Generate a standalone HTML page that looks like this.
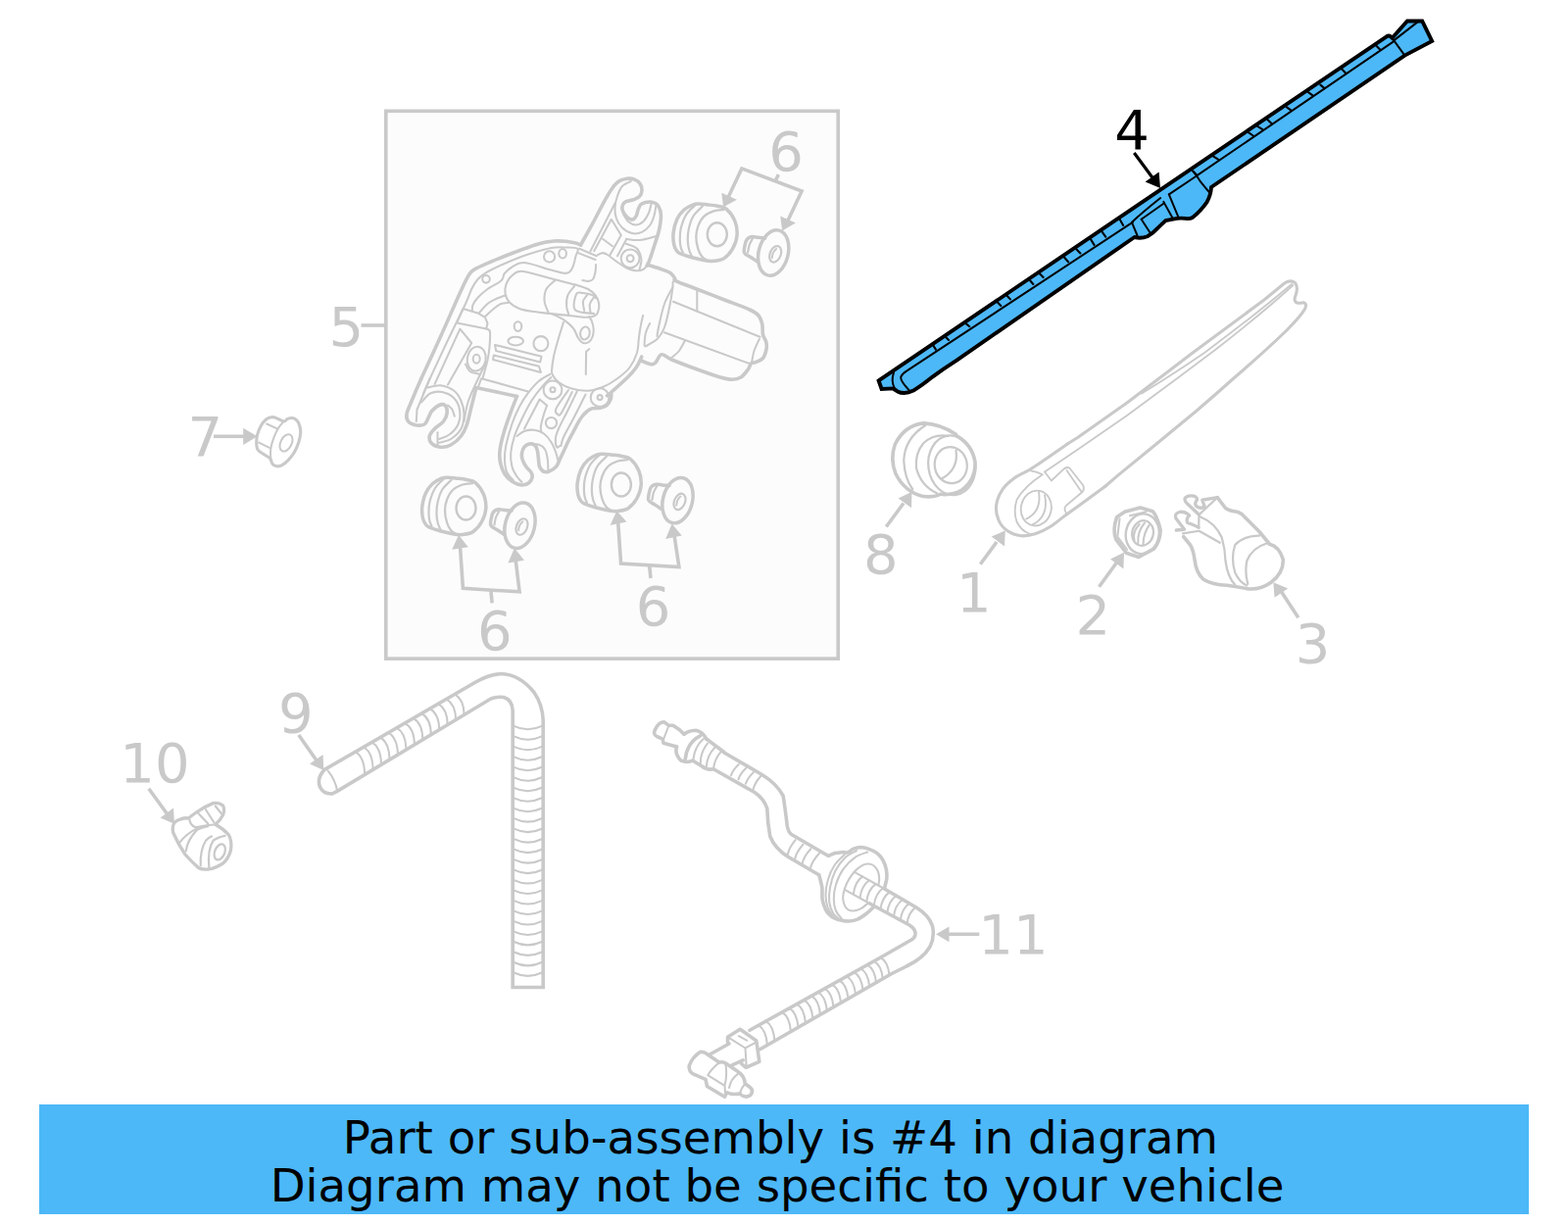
<!DOCTYPE html>
<html lang="en">
<head>
<meta charset="utf-8">
<title>Part diagram</title>
<style>
html,body{margin:0;padding:0;background:#fff;}
body{width:1600px;height:1249px;overflow:hidden;position:relative;font-family:"DejaVu Sans","Liberation Sans",sans-serif;}
svg{position:absolute;left:0;top:0;display:block;}
.g{fill:none;stroke:#c9c9c9;stroke-linecap:round;stroke-linejoin:round;}
.t{stroke-width:3.6;}
.n{stroke-width:2.05;}
.b{stroke-linecap:butt !important;}
.lab{font-family:"DejaVu Sans","Liberation Sans",sans-serif;font-size:56px;fill:#c9c9c9;}
.k{fill:none;stroke:#000;stroke-linejoin:round;stroke-linecap:round;}
.banner{position:absolute;left:40px;top:1127px;width:1520px;height:112px;background:#4db8f7;}
.banner div{position:absolute;left:0;width:1520px;text-align:center;white-space:nowrap;font-size:46.67px;line-height:1;color:#000;}
</style>
</head>
<body>
<svg id="dia" width="1600" height="1249" viewBox="0 0 1600 1249">
<!--BOX-->
<rect x="393.8" y="113.3" width="461.4" height="558.8" fill="#fcfcfc" stroke="#c9c9c9" stroke-width="3.6"/>
<g id="blade">
<!-- main body -->
<path d="M896.6 388.4 L1414.8 37.3 Q1417 36 1418.6 37 L1420.6 38.8 L1436 21.5 L1451.2 21.5 L1461.2 42 L1433.4 56.6 L1236 191 Q1235.6 199 1231.5 206.3 Q1224.5 216 1216.8 222 Q1214 223.6 1209.5 222.9 Q1203.5 222 1197 223.6 Q1192 224.6 1189.4 225.1 Q1186.5 227.8 1181.5 232.6 Q1176 238.6 1170.8 241.2 Q1164.5 243.8 1157.6 242 L976.3 367.6 Q962.5 376.4 951.5 384.6 Q940.5 393.6 932 398.6 Q923 403 915.8 399.4 Q913 397.6 911.4 396.4 L899.6 397 Z" fill="#4db8f7" stroke="#000" stroke-width="3.9" stroke-linejoin="miter"/>
<g class="k" stroke-width="2.0">
<!-- inner rail -->
<path d="M927.4 398 Q918 388 919.4 384.4 Q920.6 381.4 925.4 378.4 L1156 226.6"/>
<path d="M1221 179.4 L1422 42.4"/>
<!-- end cap left curve -->
<path d="M912 380.2 Q909 388.6 912.6 395.6"/>
<!-- tip lines -->
<path d="M1420.6 38.8 L1433.4 56.6"/>
<path d="M1422.2 41.4 L1446.6 22.4"/>
</g>
<g class="k" stroke-width="2.1" id="ticks">
<path d="M1404.4 46.8 L1408.6 50.9 M1368.7 70.1 L1373.5 74.9 M1347.4 86.6 L1351.5 90.1 M1335 94.2 L1339.8 97.6 M1313 109.3 L1317.8 112.8 M1293.1 121.7 L1297.2 125.8 M1282.8 128.6 L1288 131.8 M1273.9 135.1 L1278.8 138.5 M1237.5 159.1 L1243 162.6 M1216.9 174.3 L1221 178.4"/>
<path d="M1142.6 223.8 L1146.1 229.9 M1124.8 236.8 L1128.2 241.6 M1113.1 244.4 L1116.5 249.9 M1098.3 254.3 L1102.4 258.4 M1085.9 262.5 L1090.1 267.3 M1059.8 278.3 L1064.6 283.1 M1050.2 285.2 L1054.3 290 M1027.5 301.7 L1030.9 305.4 M1017.9 308.6 L1021.3 312 M985.9 330.4 L989.3 333.2 M965.3 344.2 L968 346.9 M952.2 352.4 L954.9 356.6"/>
</g>
<!-- connector details, traced at 7.2727x from (1100,100) -->
<g class="k" transform="translate(1100,100) scale(0.1375)" stroke-width="14.5">
<path d="M675 715 L880 578"/>
<path d="M855 545 Q880 575 905 615 Q940 660 975 700"/>
<path d="M675 715 L745 885"/>
<path d="M635 770 L703 892"/>
<path d="M470 900 L640 780"/>
<path d="M470 900 L535 1000"/>
<path d="M400 925 L440 1020"/>
<path d="M400 922 Q470 855 612 742"/>
</g>
<!-- arrow + label -->
<path d="M1157.3 156 L1178 184" stroke="#000" stroke-width="3.2" fill="none"/>
<path d="M1184 192 L1168.6 185.6 L1182.6 175.4 Z" fill="#000"/>
<text x="1137.2" y="151.9" style="font-family:'DejaVu Sans','Liberation Sans',sans-serif;font-size:56px;fill:#000">4</text>
</g>

<g id="motor" class="g">
<path class="t" d="M592.5 250 C594.6 246.2 600.8 235.2 605 227.5 C609.2 219.8 614 210 617.5 203.8 C621 197.5 623.8 193.2 626.2 190 C628.8 186.8 630.2 185.7 632.5 184.4 C634.8 183.1 637.5 182.5 640 182.2 C642.5 182 645.3 182.2 647.5 183.1 C649.7 184 651.9 185.6 653.1 187.5 C654.4 189.4 655.1 192.2 655 194.4 C654.9 196.6 654 199.1 652.5 200.6 C651 202.2 648.5 202.9 646.2 203.8 C644 204.6 640.5 204.8 638.8 205.6 C637 206.5 636.2 207.4 635.6 208.8 C635 210.1 634.7 212.1 635 213.8 C635.3 215.4 636.4 217.2 637.5 218.8 C638.6 220.3 640.4 222.3 641.9 223.1 C643.3 224 645 224.3 646.2 223.8 C647.5 223.2 648.5 221.7 649.4 220 C650.2 218.3 650.5 215.6 651.2 213.8 C652 211.9 652.5 210 653.8 208.8 C655 207.5 656.9 206.9 658.8 206.5 C660.6 206.1 663 205.9 665 206.2 C667 206.6 669.2 207.3 670.6 208.8 C672.1 210.2 673.1 212.7 673.8 215 C674.4 217.3 674.6 219.2 674.4 222.5 C674.2 225.8 673.6 230.2 672.5 235 C671.4 239.8 669.2 246 667.5 251.2 C665.8 256.5 663.8 262.9 662.5 266.2 C661.2 269.6 660.4 270.4 660 271.2"/>
<path class="n" d="M643.8 185 C642.3 185.8 637.3 187.5 635 190 C632.7 192.5 631.2 196.5 630 200 C628.8 203.5 627.7 207.5 627.5 211.2 C627.3 215 627.5 219 628.8 222.5 C630 226 632.3 229.9 635 232.5 C637.7 235.1 641.7 237.4 645 238.1 C648.3 238.9 652 238.2 655 236.9 C658 235.5 661 232.8 663.1 230 C665.2 227.2 666.5 223.3 667.5 220 C668.5 216.7 669.1 211.7 669.4 210"/>
<path class="n" d="M636.2 218.8 C637.1 220 639.2 224.5 641.2 226.2 C643.3 228 646.2 229.4 648.8 229.4 C651.2 229.4 654.1 228.2 656.2 226.2 C658.4 224.3 660.5 220.4 661.9 217.5 C663.2 214.6 664 210.2 664.4 208.8"/>
<path class="n" d="M627.5 207.5 L602.5 256.2"/>
<path class="n" d="M606.2 256.2 L623.8 223.8 L633.8 240 L622.5 260"/>
<path class="n" d="M615 243.8 L625 251.2"/>
<path class="n" d="M638.8 245 L630 261.2"/>
<path class="n" d="M638.8 243.8 C641 244 647.5 245.4 652.5 245 C657.5 244.6 666 241.9 668.8 241.2"/>
<ellipse class="n" cx="643.1" cy="263.8" rx="9.4" ry="9.4"/>
<ellipse class="n" cx="643.1" cy="263.8" rx="3.5" ry="3.5"/>
<path class="n" d="M638.8 248.8 C640.6 249.6 647.4 251 650 253.8 C652.6 256.5 654 261.5 654.4 265 C654.8 268.5 652.8 273.3 652.5 275"/>
<path class="n" d="M591.2 253.8 L608.8 261.2"/>
<path class="n" d="M590 258.1 L607.5 265"/>
<path class="n" d="M610 260 C610.8 259.7 613.3 258.1 615 258.1 C616.7 258.1 617.5 258.4 620 260 C622.5 261.6 626.7 265.2 630 267.5 C633.3 269.8 636.9 272.3 640 273.8 C643.1 275.2 646 276 648.8 276.2 C651.5 276.5 654.4 275.8 656.2 275 C658.1 274.2 659.4 271.9 660 271.2"/>
<path class="t" d="M660.8 270.2 C663.1 271 671.1 273.4 675 274.8 C678.9 276.1 681.8 277 684 278.5 C686.2 280 687.5 282.4 688.5 283.8 C689.5 285.1 686.2 284.9 690 286.8 C693.8 288.6 703 291.9 711 295 C719 298.1 729 302 738 305.5 C747 309 759 313.2 765 316 C771 318.8 771.9 319.5 774 322 C776.1 324.5 777 327.8 777.8 331 C778.5 334.2 777.8 338.5 778.5 341.5 C779.2 344.5 781.2 346.5 781.8 349 C782.4 351.5 782.5 353.8 782 356.5 C781.4 359.2 780.3 363.3 778.5 365.5 C776.7 367.7 773 368.8 771 369.7 C769 370.6 767.8 369.6 766.5 370.8 C765.2 371.9 765.2 374.4 763.5 376.8 C761.8 379.1 758.8 383.2 756 385 C753.2 386.8 750.5 387.2 747 387.2 C743.5 387.2 741 386.8 735 385 C729 383.2 719.2 379.8 711 376.8 C702.8 373.8 691.5 369.5 685.5 367 C679.5 364.5 677.8 361.2 675 361.8 C672.2 362.2 670.8 368.3 669 370 C667.2 371.7 666.8 372.1 664.5 371.8 C662.2 371.6 657 369.1 655.5 368.5"/>
<path class="n" d="M687 307.8 L775.5 343.8"/>
<path class="n" d="M678 339.2 L764.2 370.8"/>
<path class="n" d="M711.3 296.5 L711.3 317.1"/>
<path class="n" d="M686.7 287.5 C686.6 288.8 686.8 290.8 686.2 295 C685.7 299.2 684.6 306.5 683.2 313 C681.9 319.5 680.1 328.5 678 334 C675.9 339.5 673.8 342.8 670.5 346 C667.2 349.2 660.5 352.2 658.5 353.5"/>
<path class="n" d="M686.2 293.5 C684.9 296.2 680.4 303.2 678 310 C675.6 316.8 673.2 328.5 672 334 C670.8 339.5 670.8 341.5 670.5 343"/>
<path class="n" d="M699 347.5 C698 349.2 695.2 355.1 693 358 C690.8 360.9 686.8 363.6 685.5 364.8"/>
<path class="n" d="M774.8 346 C773.9 348 770.8 354.1 769.5 358 C768.2 361.9 767.6 367.4 767.2 369.2"/>
<path class="t" d="M654.8 364 C653.9 365.8 651.9 371 649.5 374.5 C647.1 378 644.8 380.8 640.5 385 C636.2 389.2 627.5 396.9 624 400 C620.5 403.1 620.2 403.1 619.5 403.8"/>
<path class="t" d="M430 386.1 C433.3 378.9 443.3 357.3 450 342.5 C456.7 327.7 465.2 307.9 470 297.5 C474.8 287.1 476.2 283.9 478.8 280 C481.2 276.1 481.5 276.5 485 274.4 C488.5 272.3 493.3 270.3 500 267.5 C506.7 264.7 516.7 260.6 525 257.5 C533.3 254.4 543.3 250.7 550 248.8 C556.7 246.8 560.4 246.4 565 246 C569.6 245.6 573.8 245.9 577.5 246.2 C581.2 246.6 585 247.5 587.5 248.1 C590 248.8 591.7 249.7 592.5 250"/>
<path class="n" d="M432.2 401.2 C433.3 398.7 434.8 394.9 438.8 386.1 C442.8 377.4 450.2 361.4 456.2 348.8 C462.3 336.1 470.8 319 475 310 C479.2 301 479.2 299.2 481.2 295 C483.3 290.8 485.2 287.7 487.5 285 C489.8 282.3 490.8 281.2 495 278.8 C499.2 276.2 505.4 273.1 512.5 270 C519.6 266.9 529.2 262.8 537.5 260 C545.8 257.2 555.8 254.4 562.5 253.1 C569.2 251.9 573 252.4 577.5 252.5 C582 252.6 587.7 252.3 589.4 253.8 C591 255.2 588.2 258.3 587.5 261.2 C586.8 264.2 586 268.5 585 271.2 C584 274 582.9 276.2 581.2 277.5 C579.6 278.8 578.1 279.1 575 278.8 C571.9 278.4 569.2 277.4 562.5 275.6 C555.8 273.9 541.7 268.6 535 268.1 C528.3 267.6 525.8 270.7 522.5 272.5 C519.2 274.3 516.6 276.9 515 278.8 C513.4 280.6 514 282.3 513.1 283.8 C512.3 285.2 512.6 285.6 510 287.5 C507.4 289.4 501.2 292.3 497.5 295 C493.8 297.7 490 301 487.5 303.8 C485 306.5 483.4 309.2 482.5 311.2 C481.6 313.3 482 315.4 481.9 316.2"/>
<ellipse class="n" cx="496.0" cy="284.8" rx="3.8" ry="3.8"/>
<ellipse class="n" cx="560.6" cy="261.9" rx="5.6" ry="5.6"/>
<ellipse class="n" cx="574.1" cy="258.8" rx="3.8" ry="4.8"/>
<path class="n" d="M472.5 315 L487.5 319.4 L495 323.8 L497.5 330 L496.2 335.6 L466.2 329.4 L472.5 315"/>
<path class="n" d="M496.2 335.6 C496.9 336.1 499.5 335.5 500 338.8 C500.5 342 499.8 350.2 499.4 355 C499 359.8 498.6 362.3 497.5 367.5 C496.4 372.7 493.3 383 492.5 386.1"/>
<path class="n" d="M443.6 391.9 L469.4 335.6 L481.2 350 L457 392.5"/>
<ellipse class="n" cx="486.2" cy="366.2" rx="9.4" ry="12.5" transform="rotate(10 486.2 366.2)"/>
<ellipse class="n" cx="486.2" cy="366.2" rx="3.5" ry="4.4"/>
<path class="n" d="M488.8 319.4 C490.2 317.8 494.6 312.4 497.5 310 C500.4 307.6 503.1 306.5 506.2 305 C509.4 303.5 514.6 301.9 516.2 301.2"/>
<path class="n" d="M495 323.1 C496.5 321.8 501 317.2 503.8 315 C506.5 312.8 508.8 311 511.2 310 C513.8 309 517.5 309 518.8 308.8"/>
<ellipse class="n" cx="528.5" cy="333.1" rx="3.8" ry="4.8"/>
<ellipse class="n" cx="526.2" cy="348.1" rx="7.8" ry="4.4"/>
<ellipse class="n" cx="551.9" cy="350.6" rx="7.5" ry="7.5"/>
<path class="n" d="M505 351.9 L552.5 363.8 L551.2 369.4 L506.2 358.1 Z"/>
<path class="n" d="M503.8 362.5 L550 373.8 L551.9 380 L503.1 366.9 Z"/>
<path class="n" d="M533.8 276.9 C541.2 277.6 558.5 283.3 567.5 285.6 C576.5 287.9 582.1 289.1 587.5 290.6 C592.9 292.2 596.7 293.2 600 295 C603.3 296.8 605.6 298.8 607.5 301.2 C609.4 303.8 610.8 307.1 611.2 310 C611.7 312.9 610.8 316.7 610 318.8 C609.2 320.8 608.3 321.7 606.2 322.5 C604.2 323.3 601.9 323.9 597.5 323.8 C593.1 323.6 586 322.5 580 321.9 C574 321.2 567.1 320.6 561.2 320 C555.4 319.4 550.2 319 545 318.1 C539.8 317.3 534.2 316.6 530 315 C525.8 313.4 522.4 311.2 520 308.8 C517.6 306.2 516.2 303.1 515.6 300 C515 296.9 515.4 293.1 516.5 290 C517.6 286.9 519.6 283.4 522.5 281.2 C525.4 279.1 526.2 276.1 533.8 276.9 Z"/>
<path class="n" d="M566.2 286.2 C564.8 287.7 559.3 291.5 557.5 295 C555.7 298.5 555.2 303.3 555.6 307.5 C556 311.7 559.3 317.9 560 320"/>
<path class="n" d="M586.2 291.9 C585.1 293.4 580.7 297.8 579.4 301.2 C578 304.7 577.9 309.1 578.1 312.5 C578.3 315.9 580.2 320.3 580.6 321.9"/>
<path class="n" d="M608.1 304.4 C607.6 303.9 607.2 302.1 605 301.2 C602.8 300.4 597.8 299.2 595 299 C592.2 298.8 589.5 297.1 588.1 300 C586.8 302.9 583.9 312.9 586.9 316.2 C589.9 319.6 603 319.4 606.2 320"/>
<path class="n" d="M599.4 300.6 C598.6 301.8 595.5 304.8 595 307.5 C594.5 310.2 596 315.3 596.2 316.9"/>
<path class="n" d="M606.2 303.1 C605.5 304.3 602.5 307.4 601.9 310 C601.2 312.6 602.4 317.3 602.5 318.8"/>
<path class="n" d="M608.1 270 C608 271.2 608 275 607.5 277.5 C607 280 606.2 283.4 605 285 C603.8 286.6 601.8 286.7 600 286.9 C598.2 287 595.3 286.1 594.4 286"/>
<path class="n" d="M562.5 320 C564.6 321 571.2 323.8 575 326.2 C578.8 328.8 582.5 331.9 585 335 C587.5 338.1 588.3 342.5 590 345 C591.7 347.5 593.1 349.4 595 350 C596.9 350.6 599.6 350 601.2 348.8 C602.9 347.5 604.3 344.8 605 342.5 C605.7 340.2 605.8 337.5 605.6 335 C605.4 332.5 604.5 329.5 603.8 327.5 C603 325.5 601.7 323.9 601.2 323.1"/>
<ellipse class="n" cx="596.9" cy="340.0" rx="4.8" ry="6.5" transform="rotate(10 596.9 340.0)"/>
<path class="n" d="M575 328.8 C574.2 331.5 571.7 339.2 570 345 C568.3 350.8 566.1 358.3 565 363.8 C563.9 369.2 563.3 374.4 563.1 377.5 C562.9 380.6 562.6 380.4 563.8 382.5 C564.9 384.6 566.9 387.7 570 390 C573.1 392.3 577.5 394.8 582.5 396.2 C587.5 397.7 594.6 399 600 398.8 C605.4 398.5 610 397.1 615 395 C620 392.9 625.4 389.6 630 386.2 C634.6 382.9 639.2 379.4 642.5 375 C645.8 370.6 648.4 365 650 360 C651.6 355 651.2 349.6 651.9 345 C652.5 340.4 653 336.4 653.8 332.5 C654.5 328.6 655.8 323.6 656.2 321.9"/>
<path class="n" d="M601.2 356.2 L598.1 358.8 L597.8 381.9"/>
<path class="n" d="M663.1 330 C662.4 331.7 659.7 336.2 658.8 340 C657.8 343.8 657.7 350.4 657.5 352.5"/>
<path class="n" d="M438.7 386.1 L425.5 418 L424.8 430"/>
<path class="t" d="M430 386.1 C428.2 390.1 422 404.4 419.5 410.5 C417 416.6 415.5 419.2 415 422.5 C414.5 425.8 415 428.1 416.5 430 C418 431.9 421.2 433.2 424 433.8 C426.8 434.2 430.9 434.1 433 433 C435.1 431.9 435.5 429.2 436.8 427 C438 424.8 438.6 421.8 440.5 419.5 C442.4 417.2 445.8 414.5 448 413.5 C450.2 412.5 452.6 412.2 454 413.5 C455.4 414.8 456.5 418.2 456.2 421 C456 423.8 454.6 427.2 452.5 430 C450.4 432.8 445.9 435 443.5 437.5 C441.1 440 438.8 442.5 438.2 445 C437.8 447.5 438.6 450.6 440.5 452.5 C442.4 454.4 446.2 456 449.5 456.2 C452.8 456.5 456.5 455.9 460 454 C463.5 452.1 467.8 448.5 470.5 445 C473.2 441.5 474.8 438 476.5 433 C478.2 428 479.5 421 481 415 C482.5 409 484.8 400 485.5 397"/>
<path class="n" d="M436 395.5 C438.2 395.1 445 392.8 449.5 393.2 C454 393.8 459.5 395.9 463 398.5 C466.5 401.1 468.8 405 470.5 409 C472.2 413 473.5 417.8 473.5 422.5 C473.5 427.2 472.8 433.2 470.5 437.5 C468.2 441.8 463.8 445.6 460 448 C456.2 450.4 450 451.1 448 451.8"/>
<path class="n" d="M430 410.5 C431.5 409 435.5 403.2 439 401.5 C442.5 399.8 447 399.2 451 400 C455 400.8 460 403 463 406 C466 409 468.2 413.5 469 418 C469.8 422.5 469.2 428.8 467.5 433 C465.8 437.2 461.8 441 458.5 443.5 C455.2 446 449.8 447.2 448 448"/>
<path class="n" d="M457 413.5 C457.8 414.2 460.4 416.1 461.5 418 C462.6 419.9 463.4 423.6 463.8 424.8"/>
<path class="n" d="M446.5 441.2 L446.5 454"/>
<path class="n" d="M496 370 C495 372 493 375.5 490 382 C487 388.5 480.8 401 478 409 C475.2 417 474.2 426.5 473.5 430"/>
<path class="n" d="M475 371.5 C475.8 372.8 477 377.2 479.5 379 C482 380.8 488.2 381.5 490 382"/>
<path class="t" d="M485.5 395.5 L527.5 404.4"/>
<path class="t" d="M527.5 404.4 C526.2 407.6 522.3 417.4 520 423.8 C517.7 430.1 515.4 436.5 513.8 442.5 C512.1 448.5 510.5 455 510 460 C509.5 465 509.8 468.5 510.6 472.5 C511.5 476.5 513 480.6 515 483.8 C517 486.9 519.6 489.4 522.5 491.2 C525.4 493.1 529.6 494.8 532.5 495 C535.4 495.2 538.2 493.9 540 492.5 C541.8 491.1 542.8 488.6 543.1 486.9 C543.4 485.1 542.9 483.6 541.9 481.9 C540.8 480.1 538.3 478.4 536.9 476.2 C535.4 474.1 533.9 471 533.1 468.8 C532.4 466.5 532.2 464.6 532.5 462.5 C532.8 460.4 533.8 457.8 535 456.2 C536.2 454.7 538.3 453.5 540 453.1 C541.7 452.7 543.6 452.8 545 453.8 C546.4 454.7 547.4 456.5 548.1 458.8 C548.9 461 549 464.6 549.4 467.5 C549.8 470.4 549.7 474 550.6 476.2 C551.6 478.5 553.2 480.5 555 481.2 C556.8 482 559.2 481.5 561.2 480.6 C563.3 479.8 565.8 478.2 567.5 476.2 C569.2 474.3 569.9 471.6 571.2 468.8 C572.6 465.9 574.2 462.5 575.6 459.4 C577.1 456.2 578.4 453.1 580 450 C581.6 446.9 583.3 443.8 585 440.6 C586.7 437.5 588.5 433.9 590 431.2 C591.5 428.6 592.5 426.9 594 425 C595.5 423.1 597.1 421.4 598.8 420 C600.4 418.6 601.5 417.5 603.8 416.9 C606 416.2 610 416.8 612.5 416.2 C615 415.7 617 415.2 618.8 413.8 C620.5 412.3 622.3 409.4 623.1 407.5 C624 405.6 623.6 403.3 623.8 402.5"/>
<path class="n" d="M487.5 396.2 L491.2 386.2 L538.8 399.4"/>
<path class="n" d="M561.2 381.9 C559.4 383 553.8 385.5 550 388.8 C546.2 392 542.1 396.9 538.8 401.2 C535.4 405.6 532.7 409.8 530 415 C527.3 420.2 524.8 425.8 522.5 432.5 C520.2 439.2 517.5 448.8 516.2 455 C515 461.2 514.8 465.4 515 470 C515.2 474.6 516 479.2 517.5 482.5 C519 485.8 522.7 488.8 523.8 490"/>
<path class="n" d="M562.5 385 C561 386.5 557.1 389.8 553.8 393.8 C550.4 397.7 546 403.1 542.5 408.8 C539 414.4 535.4 421.5 532.5 427.5 C529.6 433.5 526.9 439.2 525 445 C523.1 450.8 521.7 457.3 521.2 462.5 C520.8 467.7 521.5 472.3 522.5 476.2 C523.5 480.2 525.8 483.6 527.5 486.2 C529.2 488.9 531.7 490.9 532.5 491.9"/>
<path class="n" d="M535 437.5 L550.6 407.5 L558.1 413.8"/>
<path class="n" d="M558.1 413.8 C557.6 415.2 556 419 555 422.5 C554 426 552.3 431.9 551.9 435 C551.5 438.1 552.4 440.2 552.5 441.2"/>
<path class="n" d="M527.5 445 C528.8 444.2 532.1 441 535 440 C537.9 439 541.7 438.3 545 438.8 C548.3 439.2 552.1 440.4 555 442.5 C557.9 444.6 560.4 447.9 562.5 451.2 C564.6 454.6 566.4 459.4 567.5 462.5 C568.6 465.6 569.1 468.8 569.4 470"/>
<path class="n" d="M540 453.1 C541.7 453.2 547.3 452.8 550 453.8 C552.7 454.7 554.8 456.2 556.2 458.8 C557.7 461.2 558.2 465.2 558.8 468.8 C559.3 472.3 559.3 478.1 559.4 480"/>
<ellipse class="n" cx="564.0" cy="397.8" rx="9.4" ry="9.4"/>
<ellipse class="n" cx="564.0" cy="397.8" rx="2.5" ry="2.5"/>
<path class="n" d="M580 398.1 C578.3 400.5 572.2 409.1 570 412.5 C567.8 415.9 567.1 417.1 566.9 418.8 C566.7 420.4 567.8 422 568.8 422.5 C569.7 423 570 425.6 572.5 421.9 C575 418.1 581.9 403.6 583.8 400"/>
<path class="n" d="M588.8 399.4 C587.1 402.8 581.9 413.6 578.8 420 C575.6 426.4 572 432.9 570 437.5 C568 442.1 567.2 444.4 566.9 447.5 C566.6 450.6 567.4 455 568.1 456.2 C568.9 457.5 570.7 455.2 571.2 455"/>
<path class="n" d="M597.5 402.5 C595.6 406.2 590 417.7 586.2 425 C582.5 432.3 577.3 441.2 575 446.2 C572.7 451.2 572.9 453.5 572.5 455"/>
<ellipse class="n" cx="562.5" cy="431.5" rx="5.6" ry="5.6"/>
<ellipse class="n" cx="612.1" cy="405.6" rx="9.4" ry="9.4"/>
<ellipse class="n" cx="612.1" cy="405.6" rx="2.5" ry="2.5"/>
</g>


<g id="grom">
<g class="g" transform="translate(475.5,518.5)">
<path d="M9.5 -26 C6.6 -28.5 3.8 -28.2 0.5 -29 C-2.8 -29.8 -7.3 -30.1 -10.5 -30.5 C-13.7 -30.9 -16.1 -31.3 -18.5 -31.3 C-20.9 -31.3 -22.4 -31.4 -25 -30.3 C-27.6 -29.2 -31.3 -27.5 -34 -25 C-36.7 -22.5 -39.2 -19.4 -41 -15.5 C-42.8 -11.6 -44.2 -5.8 -44.7 -1.5 C-45.2 2.8 -44.7 7.3 -44 10.5 C-43.3 13.7 -41.8 15.9 -40.5 17.5 C-39.2 19.1 -39 18.8 -36.5 19.8 C-34 20.8 -29.5 22.4 -25.5 23.5 C-21.5 24.6 -16.2 25.9 -12.5 26.5 C-8.8 27.1 -6.8 27.4 -3.5 27 C-0.2 26.6 3.8 26.5 7 24.3 C10.2 22.1 13.8 18 16 14 C18.2 10 20 5.2 20.3 0.5 C20.6 -4.2 19.8 -9.6 18 -14 C16.2 -18.4 12.4 -23.5 9.5 -26 Z" stroke-width="3.5"/>
<path d="M6.5 -25.3 C4.8 -25.1 -0.2 -25.1 -3.5 -24 C-6.8 -22.9 -10.8 -21.1 -13.5 -18.5 C-16.2 -15.9 -18.2 -12 -19.5 -8.5 C-20.8 -5 -21.5 -1.3 -21.5 2.5 C-21.5 6.3 -20.5 11.2 -19.5 14.5 C-18.5 17.8 -17 20.5 -15.5 22.5 C-14 24.5 -11.3 25.7 -10.5 26.3" stroke-width="2.3"/>
<path d="M-22 -30.3 C-23.6 -28.7 -29 -24.5 -31.5 -20.5 C-34 -16.5 -35.9 -10.8 -37 -6.5 C-38.1 -2.2 -38 2.2 -38 5.5 C-38 8.8 -37.5 11.4 -37 13.5 C-36.5 15.6 -35.3 17.5 -35 18.3 M-15 -28.7 C-16.6 -27 -22.2 -22.4 -24.5 -18.5 C-26.8 -14.6 -28.1 -9.7 -29 -5.5 C-29.9 -1.3 -30.1 3 -30 6.5 C-29.9 10 -29.4 12.9 -28.7 15.5 C-28 18.1 -26.4 20.9 -26 22" stroke-width="2.2"/>
<ellipse cx="0" cy="0" rx="10" ry="12" stroke-width="2.4"/>
</g><g class="g" transform="translate(532.5,537.5)">
<ellipse cx="-2" cy="-1.3" rx="15" ry="23.6" transform="rotate(14 -2 -1.3)" stroke-width="3.5"/>
<ellipse cx="0" cy="0" rx="5.5" ry="8.6" transform="rotate(22)" stroke-width="2.2"/>
<path d="M0.9 -5.3 Q-3.5 -1.5 -3.3 3.7" stroke-width="2"/>
<path d="M-10.5 -16.3 C-11.7 -16.4 -15.2 -16.8 -17.5 -17 C-19.8 -17.2 -22.1 -18 -24 -17.7 C-25.9 -17.4 -27.8 -16.4 -29 -15 C-30.2 -13.6 -30.6 -11.8 -31 -9.5 C-31.4 -7.2 -32.6 -3.6 -31.7 -1.5 C-30.8 0.6 -27.7 1.5 -25.5 3 C-23.3 4.5 -19.5 6.9 -18.3 7.7" stroke-width="3.5"/>
<path d="M-23.3 -15.7 C-23.8 -14.7 -25.7 -11.8 -26.5 -9.5 C-27.3 -7.2 -27.8 -3.2 -28 -2 M-12 -15 C-12.7 -13.8 -15 -10.1 -16 -7.5 C-17 -4.9 -17.8 -2 -18 0.5 C-18.2 3 -17.6 6.3 -17.5 7.5" stroke-width="2.2"/>
</g>
<g class="g" transform="translate(633.9,494.5)">
<path d="M9.5 -26 C6.6 -28.5 3.8 -28.2 0.5 -29 C-2.8 -29.8 -7.3 -30.1 -10.5 -30.5 C-13.7 -30.9 -16.1 -31.3 -18.5 -31.3 C-20.9 -31.3 -22.4 -31.4 -25 -30.3 C-27.6 -29.2 -31.3 -27.5 -34 -25 C-36.7 -22.5 -39.2 -19.4 -41 -15.5 C-42.8 -11.6 -44.2 -5.8 -44.7 -1.5 C-45.2 2.8 -44.7 7.3 -44 10.5 C-43.3 13.7 -41.8 15.9 -40.5 17.5 C-39.2 19.1 -39 18.8 -36.5 19.8 C-34 20.8 -29.5 22.4 -25.5 23.5 C-21.5 24.6 -16.2 25.9 -12.5 26.5 C-8.8 27.1 -6.8 27.4 -3.5 27 C-0.2 26.6 3.8 26.5 7 24.3 C10.2 22.1 13.8 18 16 14 C18.2 10 20 5.2 20.3 0.5 C20.6 -4.2 19.8 -9.6 18 -14 C16.2 -18.4 12.4 -23.5 9.5 -26 Z" stroke-width="3.5"/>
<path d="M6.5 -25.3 C4.8 -25.1 -0.2 -25.1 -3.5 -24 C-6.8 -22.9 -10.8 -21.1 -13.5 -18.5 C-16.2 -15.9 -18.2 -12 -19.5 -8.5 C-20.8 -5 -21.5 -1.3 -21.5 2.5 C-21.5 6.3 -20.5 11.2 -19.5 14.5 C-18.5 17.8 -17 20.5 -15.5 22.5 C-14 24.5 -11.3 25.7 -10.5 26.3" stroke-width="2.3"/>
<path d="M-22 -30.3 C-23.6 -28.7 -29 -24.5 -31.5 -20.5 C-34 -16.5 -35.9 -10.8 -37 -6.5 C-38.1 -2.2 -38 2.2 -38 5.5 C-38 8.8 -37.5 11.4 -37 13.5 C-36.5 15.6 -35.3 17.5 -35 18.3 M-15 -28.7 C-16.6 -27 -22.2 -22.4 -24.5 -18.5 C-26.8 -14.6 -28.1 -9.7 -29 -5.5 C-29.9 -1.3 -30.1 3 -30 6.5 C-29.9 10 -29.4 12.9 -28.7 15.5 C-28 18.1 -26.4 20.9 -26 22" stroke-width="2.2"/>
<ellipse cx="0" cy="0" rx="10" ry="12" stroke-width="2.4"/>
</g><g class="g" transform="translate(693.5,511.9)">
<ellipse cx="-2" cy="-1.3" rx="15" ry="23.6" transform="rotate(14 -2 -1.3)" stroke-width="3.5"/>
<ellipse cx="0" cy="0" rx="5.5" ry="8.6" transform="rotate(22)" stroke-width="2.2"/>
<path d="M0.9 -5.3 Q-3.5 -1.5 -3.3 3.7" stroke-width="2"/>
<path d="M-10.5 -16.3 C-11.7 -16.4 -15.2 -16.8 -17.5 -17 C-19.8 -17.2 -22.1 -18 -24 -17.7 C-25.9 -17.4 -27.8 -16.4 -29 -15 C-30.2 -13.6 -30.6 -11.8 -31 -9.5 C-31.4 -7.2 -32.6 -3.6 -31.7 -1.5 C-30.8 0.6 -27.7 1.5 -25.5 3 C-23.3 4.5 -19.5 6.9 -18.3 7.7" stroke-width="3.5"/>
<path d="M-23.3 -15.7 C-23.8 -14.7 -25.7 -11.8 -26.5 -9.5 C-27.3 -7.2 -27.8 -3.2 -28 -2 M-12 -15 C-12.7 -13.8 -15 -10.1 -16 -7.5 C-17 -4.9 -17.8 -2 -18 0.5 C-18.2 3 -17.6 6.3 -17.5 7.5" stroke-width="2.2"/>
</g>
<g class="g" transform="translate(731.8,239.3)">
<path d="M9.5 -26 C6.6 -28.5 3.8 -28.2 0.5 -29 C-2.8 -29.8 -7.3 -30.1 -10.5 -30.5 C-13.7 -30.9 -16.1 -31.3 -18.5 -31.3 C-20.9 -31.3 -22.4 -31.4 -25 -30.3 C-27.6 -29.2 -31.3 -27.5 -34 -25 C-36.7 -22.5 -39.2 -19.4 -41 -15.5 C-42.8 -11.6 -44.2 -5.8 -44.7 -1.5 C-45.2 2.8 -44.7 7.3 -44 10.5 C-43.3 13.7 -41.8 15.9 -40.5 17.5 C-39.2 19.1 -39 18.8 -36.5 19.8 C-34 20.8 -29.5 22.4 -25.5 23.5 C-21.5 24.6 -16.2 25.9 -12.5 26.5 C-8.8 27.1 -6.8 27.4 -3.5 27 C-0.2 26.6 3.8 26.5 7 24.3 C10.2 22.1 13.8 18 16 14 C18.2 10 20 5.2 20.3 0.5 C20.6 -4.2 19.8 -9.6 18 -14 C16.2 -18.4 12.4 -23.5 9.5 -26 Z" stroke-width="3.5"/>
<path d="M6.5 -25.3 C4.8 -25.1 -0.2 -25.1 -3.5 -24 C-6.8 -22.9 -10.8 -21.1 -13.5 -18.5 C-16.2 -15.9 -18.2 -12 -19.5 -8.5 C-20.8 -5 -21.5 -1.3 -21.5 2.5 C-21.5 6.3 -20.5 11.2 -19.5 14.5 C-18.5 17.8 -17 20.5 -15.5 22.5 C-14 24.5 -11.3 25.7 -10.5 26.3" stroke-width="2.3"/>
<path d="M-22 -30.3 C-23.6 -28.7 -29 -24.5 -31.5 -20.5 C-34 -16.5 -35.9 -10.8 -37 -6.5 C-38.1 -2.2 -38 2.2 -38 5.5 C-38 8.8 -37.5 11.4 -37 13.5 C-36.5 15.6 -35.3 17.5 -35 18.3 M-15 -28.7 C-16.6 -27 -22.2 -22.4 -24.5 -18.5 C-26.8 -14.6 -28.1 -9.7 -29 -5.5 C-29.9 -1.3 -30.1 3 -30 6.5 C-29.9 10 -29.4 12.9 -28.7 15.5 C-28 18.1 -26.4 20.9 -26 22" stroke-width="2.2"/>
<ellipse cx="0" cy="0" rx="10" ry="12" stroke-width="2.4"/>
</g><g class="g" transform="translate(791.2,259.3)">
<ellipse cx="-2" cy="-1.3" rx="15" ry="23.6" transform="rotate(14 -2 -1.3)" stroke-width="3.5"/>
<ellipse cx="0" cy="0" rx="5.5" ry="8.6" transform="rotate(22)" stroke-width="2.2"/>
<path d="M0.9 -5.3 Q-3.5 -1.5 -3.3 3.7" stroke-width="2"/>
<path d="M-10.5 -16.3 C-11.7 -16.4 -15.2 -16.8 -17.5 -17 C-19.8 -17.2 -22.1 -18 -24 -17.7 C-25.9 -17.4 -27.8 -16.4 -29 -15 C-30.2 -13.6 -30.6 -11.8 -31 -9.5 C-31.4 -7.2 -32.6 -3.6 -31.7 -1.5 C-30.8 0.6 -27.7 1.5 -25.5 3 C-23.3 4.5 -19.5 6.9 -18.3 7.7" stroke-width="3.5"/>
<path d="M-23.3 -15.7 C-23.8 -14.7 -25.7 -11.8 -26.5 -9.5 C-27.3 -7.2 -27.8 -3.2 -28 -2 M-12 -15 C-12.7 -13.8 -15 -10.1 -16 -7.5 C-17 -4.9 -17.8 -2 -18 0.5 C-18.2 3 -17.6 6.3 -17.5 7.5" stroke-width="2.2"/>
</g>
<g class="g t" stroke-linejoin="miter" stroke-linecap="butt">
<path class="b" style="stroke-linejoin:miter" d="M469.4 556 L472.4 600.4 L530.1 603.9 L526 570"/>
<path class="b" d="M500.9 602.1 L502.1 615.3"/>
<path class="b" style="stroke-linejoin:miter" d="M630.6 532 L633.6 575 L692.9 578.5 L688 546"/>
<path class="b" d="M662.6 577 L664 590"/>
<path class="b" style="stroke-linejoin:miter" d="M743 201.5 L756.9 171.9 L818.1 195 L803.5 226"/>
<path class="b" d="M794.4 178.1 L791.3 184.5"/>
</g>
<g fill="#c9c9c9">
<path d="M468 546 L461.2 560.8 L477.8 558.2 Z"/>
<path d="M524.9 559.3 L518.4 574.6 L535 571.8 Z"/>
<path d="M629.4 521.3 L622.6 536 L639.4 532.6 Z"/>
<path d="M685.6 534.4 L679.2 550 L695.8 546.6 Z"/>
<path d="M738.1 211.3 L736.3 196.8 L751.9 203.8 Z"/>
<path d="M798.1 235.6 L796.3 220.6 L811.9 227.5 Z"/>
</g>
</g>

<g id="p7" class="g">
<path d="M276.6 425.8 C278.1 425.4 278.3 425.3 280.5 426 C282.7 426.7 287.3 429.7 289.5 430 C291.7 430.2 291.9 428 293.4 427.4 C294.9 426.9 296.9 426.3 298.5 426.6 C300.1 426.9 301.8 427.8 303 429.1 C304.2 430.5 305.2 432.7 305.8 434.8 C306.4 436.8 306.8 438.7 306.7 441.5 C306.5 444.3 305.8 448.2 304.7 451.6 C303.6 455 302 458.8 300.2 461.8 C298.4 464.8 296.1 467.5 294 469.6 C291.9 471.8 289.7 473.7 287.8 474.7 C285.9 475.7 284.3 476 282.8 475.8 C281.2 475.6 279.4 474.8 278.2 473.6 C277.1 472.3 276.7 469.6 276 468.5 C275.3 467.4 276.2 468.1 274.3 466.8 C272.4 465.5 266.7 462.1 264.8 460.6 C262.8 459.1 263 459.3 262.5 457.8 C262 456.3 261.7 454 261.7 451.6 C261.7 449.3 261.7 446.7 262.5 443.8 C263.3 440.8 264.9 436.8 266.4 434.2 C267.9 431.6 269.8 429.4 271.5 428 C273.2 426.6 275.1 426.1 276.6 425.8 Z" stroke-width="3.1"/>
<path class="n" d="M289.5 430 C288.6 431.1 285.6 434.2 283.9 437 C282.2 439.8 280.6 443.4 279.4 446.6 C278.2 449.8 277.1 453.2 276.6 456.1 C276 459 276 461.9 276 464 C276 466.1 276.5 467.8 276.6 468.5"/>
<path class="n" d="M272.1 432.5 L283.3 437.6 M264.2 451.6 L275.4 457.2"/>
<ellipse class="n" cx="292.0" cy="451.9" rx="5.6" ry="9.3" transform="rotate(27 292.0 451.9)"/>
</g>

<g id="p8" class="g" transform="translate(860,410) scale(0.15)">
<path d="M770 222 Q660 150 550 146 Q420 160 355 290 Q320 390 360 490 Q420 610 540 642 Q600 652 650 636" stroke-width="24"/>
<ellipse cx="742" cy="432" rx="160" ry="203" transform="rotate(-8 742 432)" stroke-width="15"/>
<path d="M775 232 Q880 290 900 410 Q905 530 810 600 Q740 640 660 628" stroke-width="24"/>
<ellipse cx="735" cy="431" rx="110" ry="124" transform="rotate(-10 735 431)" stroke-width="15"/>
<path d="M770 330 Q790 460 670 525" stroke-width="15"/>
<path d="M562 160 Q420 250 415 400 Q420 520 475 595" stroke-width="15"/>
<path d="M715 232 Q620 215 550 280 Q490 350 500 450 Q530 570 640 622" stroke-width="15"/>
</g>

<g id="arm" class="g">
<path style="stroke-width:3.1" d="M1090 452.5 L1100 446.2 L1150 411 L1200 373 L1217 360 L1290 306 L1311 288.8 Q1317 285 1321.8 288.8 Q1325.2 294 1321.5 303 Q1320 308.2 1324.2 309.3 Q1327.5 309.3 1330.2 308.7 Q1333.8 309.3 1331.7 315 Q1327.5 322.5 1312.5 337.5 Q1290 359.2 1260 385 Q1240 403 1220 420 L1180 453 L1141 484.9 L1127.5 496.5"/>
<path style="stroke-width:3.1" d="M1090 452.5 C1085 456 1066.8 468.7 1060 473.2 C1053.2 477.8 1053.6 477.6 1049.5 480 C1045.4 482.4 1039.6 484.6 1035.2 487.8 C1030.9 491 1026.3 494.8 1023.2 499.2 C1020.2 503.6 1017.5 509.3 1016.8 514.5 C1016 519.7 1016.9 525.8 1018.8 530.2 C1020.6 534.8 1023.9 538.8 1027.8 541.5 C1031.6 544.2 1037.1 546.2 1042 546.8 C1046.9 547.2 1052 546.1 1057 544.5 C1062 542.9 1067 540.4 1072 537.3 C1077 534.2 1081.5 529.9 1087 525.9 C1092.5 521.9 1098.2 517.9 1105 513 C1111.8 508.1 1123.8 499.2 1127.5 496.5"/>
<path style="stroke-width:1.8" d="M1066 481.5 L1100 458.5 L1150 424 L1200 387 L1240 357 Q1290 318 1319.5 291"/>
<path style="stroke-width:1.8" d="M1165 401.5 Q1200 380 1229 360 Q1280 322 1318 290"/>
<path style="stroke-width:1.8" d="M1066 481.5L1072.8 490.5L1085.2 478.8Q1088.5 475.8 1091.5 477.8L1105 495Q1107.2 498.8 1104.2 502.2L1087.8 516Q1085.2 519 1087.8 523.5"/>
<path style="stroke-width:1.8" d="M1088.5 480L1103.5 501.8"/>
<path style="stroke-width:1.8" d="M1051.8 480.3Q1058.5 481.5 1063.8 484.2Q1045 496.5 1037.5 510Q1033.8 522 1037.5 532.5Q1042 541.5 1050.2 544.5"/>
<g transform="translate(1000,420) scale(0.15)">
<ellipse cx="382" cy="657" rx="103" ry="120" transform="rotate(12 382 657)" stroke-width="12.5"/>
<path d="M400 545 Q420 680 315 730" stroke-width="12.5"/>
<path d="M440 568 Q470 710 360 768" stroke-width="12.5"/>
</g>
</g>

<g id="p2" class="g" transform="translate(1120,490) scale(0.15)">
<path d="M185 215 L290 187 L375 212 Q405 245 428 340 Q425 420 382 468 L280 523 L195 495 L125 402 Q100 340 130 252 Z" stroke-width="24"/>
<ellipse cx="305" cy="365" rx="113" ry="136" transform="rotate(10 305 365)" stroke-width="16"/>
<ellipse cx="307" cy="360" rx="72" ry="86" transform="rotate(14 307 360)" stroke-width="15"/>
<path d="M285 300 Q235 350 250 410 M320 290 Q270 350 275 430 M355 300 Q310 360 310 440" stroke-width="14"/>
<path d="M150 262 L135 385 L200 472 M220 242 L330 215" stroke-width="14"/>
</g>

<g id="p3" class="g" transform="translate(1120,490) scale(0.15)">
<path d="M815 118 L870 190 Q900 210 950 215 Q980 225 1000 250 L1100 350 L1170 435 Q1235 450 1262 540 Q1265 630 1180 695 Q1110 745 1030 740 Q950 725 880 715 Q780 712 720 675 Q670 630 660 540 Q650 470 630 440 L585 385" stroke-width="24"/>
<path d="M690 235 L605 155 Q575 120 620 108 Q670 100 678 132 Q655 155 672 178 Q700 198 728 180 L712 135 L815 118" stroke-width="22"/>
<path d="M688 322 Q640 298 612 290 Q598 262 625 240 Q600 215 562 215 Q520 225 532 258 L590 335 L535 340" stroke-width="22"/>
<path d="M815 118 L690 235 L688 322" stroke-width="15"/>
<path d="M580 362 L690 345 L832 425" stroke-width="15"/>
<path d="M700 250 Q800 290 845 390 Q868 470 870 550 Q885 660 935 712" stroke-width="15"/>
<path d="M1100 378 Q1000 375 935 440 Q905 530 935 630 Q970 700 1015 715" stroke-width="15"/>
<path d="M1150 430 Q1050 460 1015 550 Q1000 630 1022 705" stroke-width="15"/>
</g>

<g id="hose9" class="g">
<path class="t" d="M339 810 L344.1 807.4 L500.8 713 Q507 710.5 514 711.5 Q522.5 714 523.2 725 L523.2 1007.5 L554.2 1007.5 L554.2 735 Q553.6 719 545 706.5 Q530 688 511 687.5 Q498 688.5 485 696.3 L331 785.5 Q323 794 326.5 803 Q330 810.5 339 810 Z" stroke-linejoin="miter"/>
<path class="n" d="M334.5 786.4 Q342.4 796 344.1 807.4"/>
<path class="n" d="M524.5 740.9 Q538.5 747.7 552.8 740.9 M524.5 751.4 Q538.5 758.2 552.8 751.4 M524.5 761.9 Q538.5 768.7 552.8 761.9 M524.5 772.3 Q538.5 779.1 552.8 772.3 M524.5 782.8 Q538.5 789.6 552.8 782.8 M524.5 793.3 Q538.5 800.1 552.8 793.3 M524.5 803.8 Q538.5 810.6 552.8 803.8 M524.5 814.3 Q538.5 821.1 552.8 814.3 M524.5 824.8 Q538.5 831.6 552.8 824.8 M524.5 835.2 Q538.5 842.0 552.8 835.2 M524.5 845.7 Q538.5 852.5 552.8 845.7 M524.5 856.2 Q538.5 863.0 552.8 856.2 M524.5 866.7 Q538.5 873.5 552.8 866.7 M524.5 877.2 Q538.5 884.0 552.8 877.2 M524.5 887.7 Q538.5 894.5 552.8 887.7 M524.5 898.1 Q538.5 904.9 552.8 898.1 M524.5 908.6 Q538.5 915.4 552.8 908.6 M524.5 919.1 Q538.5 925.9 552.8 919.1 M524.5 929.6 Q538.5 936.4 552.8 929.6 M524.5 940.1 Q538.5 946.9 552.8 940.1 M524.5 950.6 Q538.5 957.4 552.8 950.6 M524.5 961.0 Q538.5 967.8 552.8 961.0 M524.5 971.5 Q538.5 978.3 552.8 971.5 M524.5 982.0 Q538.5 988.8 552.8 982.0 M524.5 992.5 Q538.5 999.3 552.8 992.5"/>
<path class="n" d="M362.5 767.2 Q372.0 772.7 372.1 790.5 M371.0 762.3 Q380.5 767.8 380.6 785.4 M379.4 757.4 Q388.9 762.9 389.0 780.3 M387.9 752.5 Q397.4 758.0 397.5 775.2 M396.3 747.6 Q405.8 753.1 405.9 770.1 M404.8 742.7 Q414.3 748.2 414.4 765.0 M413.2 737.8 Q422.8 743.3 422.9 759.9 M421.7 732.9 Q431.2 738.4 431.3 754.8 M430.2 728.0 Q439.7 733.5 439.8 749.7 M438.6 723.1 Q448.1 728.6 448.2 744.6 M447.1 718.2 Q456.6 723.7 456.7 739.5 M455.5 713.3 Q465.0 718.8 465.1 734.4 M464.0 708.4 Q473.5 713.9 473.6 729.3"/>
</g>

<g id="p10" class="g" transform="translate(150,800) scale(0.075)">
<path d="M370 530 Q400 490 460 478 Q520 455 565 468 Q620 420 680 380 Q790 305 900 262 Q975 245 1035 295 Q1060 350 1035 420 Q1000 490 930 550 Q1040 610 1110 690 Q1160 770 1140 900 Q1110 1010 1040 1075 Q950 1140 840 1160 Q750 1170 700 1140 Q600 1050 520 960 Q420 810 355 660 Q340 580 370 530 Z" stroke-width="44"/>
<path d="M690 390 L830 540 M800 350 L910 520 M930 300 L1010 400" stroke-width="29"/>
<path d="M580 490 Q590 560 660 590 Q750 575 830 560 Q880 560 930 550" stroke-width="29"/>
<path d="M440 800 Q540 670 700 595" stroke-width="29"/>
<path d="M530 910 Q550 760 680 625 Q740 590 830 575" stroke-width="29"/>
<path d="M730 1110 Q720 900 800 770 Q840 725 880 712" stroke-width="29"/>
<path d="M845 1140 Q820 900 900 770 Q960 725 1060 705" stroke-width="30"/>
<ellipse cx="990" cy="925" rx="68" ry="112" transform="rotate(22 990 925)" stroke-width="30"/>
</g>

<g id="hose11" class="g">
<path class="t" d="M698 749.2L693.5 744.8L686.8 740.2L682.2 740.2L677.8 736.8Q672.5 736.5 668.8 744Q665.8 749.2 670.2 751.5L676.2 754.2L677 758.2L690.5 762"/>
<path class="n" d="M682.2 741L677 754.5"/>
<path class="t" d="M698 749.2Q702.5 745.5 710 745.2Q717.5 747 720.5 753.8M690.5 762Q688.2 769.5 695 776.2Q701 778.8 707 776.2"/>
<path class="t" d="M714.5 750.8Q701 757.5 699.2 774.8"/>
<path class="n" d="M717.5 754.2Q708.5 762 707.3 775.8"/>
<path class="t" d="M720.5 753.8L738.5 767.2M707 776.2L716 781.8Q722 786.3 728 784.8"/>
<path class="n" d="M722 758.7Q714.5 768 714.8 779.2M729.5 762.8Q721.2 771 720.8 783M735.8 766.8Q728.8 774.8 728 784.8"/>
<path class="t" d="M738.5 767.7L777.5 790.5Q792.5 799.5 799.2 812.2Q801.2 825 803.3 843Q804.5 849 807.2 851.2L845 873.3"/>
<path class="t" d="M728 784.8L770 808.5Q779.8 815.2 782.8 825Q783.2 840 785.8 853.5Q791 866.2 804.5 874.5L835.2 892.5"/>
<path class="n" d="M753.8 780Q747.5 786 746 791.2M761.3 783.8Q755 789.8 753.5 795.3M768.8 788.2Q762.5 794.2 761 799.8M776.3 792Q770 798.8 768.5 805.8"/>
<path class="n" d="M811.7 857.2Q805.2 864.8 803.8 871.8M819.5 861.8Q812.8 869.2 811.2 876.3M827.3 866.2Q820.2 873.8 818.8 880.8M836 870.8Q828.5 879 827 885.8"/>
<path class="t" d="M845.5 873.2 C846.6 872.8 849.9 871.2 852.2 870.6 C854.6 870 857.6 869.8 859.8 869.6 C861.9 869.5 863.1 870.5 865 869.9 C866.9 869.3 868.8 867 871 866.1 C873.2 865.2 876 864.6 878.5 864.6 C881 864.6 883.2 865.1 886 866.1 C888.8 867.1 892.5 868.7 895 870.6 C897.5 872.6 899.4 874.9 901 877.8 C902.6 880.6 903.8 884.4 904.4 887.5 C905 890.6 905.1 893.4 904.8 896.5 C904.4 899.6 902.9 904.6 902.5 906.2"/>
<path class="t" d="M835.8 892.8 C836.2 894.9 838.2 901.4 838.8 905.5 C839.3 909.6 838.6 914 839.1 917.5 C839.6 921 840.7 924 841.8 926.5 C842.8 929 843.9 930.8 845.5 932.5 C847.1 934.2 849.2 935.9 851.5 937 C853.8 938.1 856.5 938.8 859 939.2 C861.5 939.8 863.8 940.2 866.5 940 C869.2 939.8 872.6 939 875.5 937.8 C878.4 936.5 881.1 934.5 883.8 932.5 C886.4 930.5 890 926.9 891.2 925.8"/>
<path class="n" d="M862 871.8 C860.2 873.6 854.4 878.6 851.5 883 C848.6 887.4 846.2 892.9 844.8 898 C843.2 903.1 842.5 909 842.5 913.8 C842.5 918.5 843.5 923 844.8 926.5 C846 930 849.1 933.4 850 934.8"/>
<path class="n" d="M874 868 C872 869.2 865.6 872 862 875.5 C858.4 879 854.8 884 852.2 889 C849.8 894 848 900.2 847 905.5 C846 910.8 845.8 916.1 846.2 920.5 C846.8 924.9 848.5 929 850 931.8 C851.5 934.5 854.4 936.1 855.2 937"/>
<path class="n" d="M885.2 869.5 C883.1 870.4 876.6 871.9 872.5 874.8 C868.4 877.6 863.8 882.1 860.5 886.8 C857.2 891.4 854.6 897.4 853 902.5 C851.4 907.6 850.8 913 850.8 917.5 C850.8 922 851.6 926.1 853 929.5 C854.4 932.9 858 936.4 859 937.8"/>
<path class="n" d="M896.5 902.5 C896.6 901.5 897.4 898.8 897.2 896.5 C897.1 894.2 896.8 891.2 895.8 889 C894.8 886.8 893 884.2 891.2 883 C889.5 881.8 887.4 881.4 885.2 881.5 C883.1 881.6 880.9 882.2 878.5 883.8 C876.1 885.2 873.4 887.6 871 890.5 C868.6 893.4 866 897.4 864.2 901 C862.5 904.6 861.1 908.9 860.5 912.2 C859.9 915.6 860.1 918.6 860.9 921.2 C861.6 923.9 863.3 926.6 865 928 C866.7 929.4 868.8 929.6 871 929.5 C873.2 929.4 876.1 928.5 878.5 927.2 C880.9 926 884.1 922.9 885.2 922"/>
<path class="n" d="M871.8 889.8 L902.5 907"/>
<path class="t" d="M902.5 907 L935 926 Q948 934 951.5 945 Q954 956 949 966 Q942 978 925 986 L910 993.5 L775.5 1070.7"/>
<path class="n" d="M862 907.8 L887.5 922"/>
<path class="t" d="M887.5 922 L928 944 Q934.5 948 934 953.5 Q933.5 957 930 959 L900 976.3 L765 1051.3"/>
<path class="n" d="M934.8 925.4 Q926.8 931.4 925.5 942.6 M928.0 921.6 Q920.0 927.6 918.8 938.9 M921.2 917.8 Q913.2 923.8 912.0 935.2 M914.5 914.0 Q906.5 920.0 905.3 931.5 M907.8 910.1 Q899.8 916.1 898.5 927.8 M901.0 906.3 Q893.0 912.3 891.8 924.1 M893.5 902.1 Q885.5 908.1 884.3 920.0 M886.8 898.3 Q878.8 904.3 877.5 916.3 M880.0 894.4 Q872.0 900.4 870.8 912.6"/>
<path class="n" d="M774.0 1046.3 Q781.6 1050.3 783.0 1066.4 M781.5 1042.1 Q789.1 1046.1 790.5 1062.1 M798.0 1033.0 Q805.6 1037.0 807.0 1052.6 M805.5 1028.8 Q813.1 1032.8 814.5 1048.3 M813.0 1024.6 Q820.6 1028.6 822.0 1044.0 M820.5 1020.5 Q828.1 1024.5 829.5 1039.7 M828.0 1016.3 Q835.6 1020.3 837.0 1035.4 M834.8 1012.6 Q842.4 1016.6 843.8 1031.5 M841.5 1008.8 Q849.1 1012.8 850.5 1027.7 M849.0 1004.6 Q856.6 1008.6 858.0 1023.3 M856.5 1000.5 Q864.1 1004.5 865.5 1019.0 M864.0 996.3 Q871.6 1000.3 873.0 1014.7 M871.5 992.1 Q879.1 996.1 880.5 1010.4 M878.2 988.4 Q885.9 992.4 887.2 1006.6 M885.0 984.6 Q892.6 988.6 894.0 1002.7 M891.8 980.9 Q899.4 984.9 900.8 998.8 M898.5 977.1 Q906.1 981.1 907.5 994.9"/>
<path class="t" d="M742.5 1063.5L742.5 1058.2L755.2 1050.3L771.8 1062L774.8 1083.3L761.2 1089.3L756.8 1085.7"/>
<path class="n" d="M742.5 1058.2L760.5 1069.5L771.8 1063.5M760.5 1069.5L761.7 1089M753.8 1057.2L762 1061.7"/>
<path class="t" d="M723.8 1076.2L744 1065M747 1086.8L758.2 1081.8"/>
<path class="t" d="M714.8 1073.2Q706.5 1078.5 703.2 1087.5Q702.8 1093.5 707.2 1095.8L720 1101.3L721.5 1108.5L739.5 1119.3L741.8 1114.8Q748.5 1117.5 754.5 1116Q760.5 1121.2 765.8 1117.5Q769.5 1113 765 1109.2L760.2 1105.8Q759.8 1098 753 1093.5L740.2 1084.8Q736.5 1083 734.2 1084.2L723 1076.7Q719.2 1073.2 714.8 1073.2Z"/>
<path class="n" d="M722.2 1097.2L739.5 1107.8L740.2 1119M739.5 1107.8Q742.5 1095 740.2 1085.2M722.2 1097.2Q727.5 1089 734.2 1084.2M744 1110Q745.5 1101 753 1095.8M755.2 1116Q756 1110 760.5 1106.2"/>
</g>

<g id="labels">
<text class="lab" x="335.5" y="353">5</text>
<path class="g t b" d="M368.5 332 L392 332"/>
<text class="lab" x="191.5" y="465">7</text>
<path class="g t b" d="M218 445.3 L250 445.3"/>
<path d="M262.5 445.3 L248.2 436.7 L248.2 453.9 Z" fill="#c9c9c9"/>
<text class="lab" x="881" y="584.7">8</text>
<path class="g t b" d="M904.3 537.5 L922 513.5"/>
<path d="M930.5 501.8 L916.6 508.4 L930 518.2 Z" fill="#c9c9c9"/>
<path class="g t b" d="M1000.3 575.8 L1017 553"/>
<path d="M1025.8 541.3 L1011.6 547.6 L1025 557.4 Z" fill="#c9c9c9"/>
<path class="g t b" d="M1121.5 598.8 L1139.5 574" />
<path d="M1147 563.8 L1133 570.4 L1146.4 580.4 Z" fill="#c9c9c9"/>
<path class="g t b" d="M1324.8 630.3 L1306 601.5" />
<path d="M1299.3 594.3 L1300.6 609.8 L1314.2 600.6 Z" fill="#c9c9c9"/>
<text class="lab" x="976.1" y="624">1</text>
<text class="lab" x="1097.6" y="647">2</text>
<text class="lab" x="1321.8" y="676.3">3</text>
<text class="lab" x="122.3" y="798">10</text>
<path class="g t b" d="M151.8 804.8 L170.5 830.5" />
<path d="M178 840.8 L163.6 834.6 L177 824.4 Z" fill="#c9c9c9"/>
<text class="lab" x="284" y="747">9</text>
<path class="g t b" d="M304.8 750 L323 776" />
<path d="M330.3 786 L316 779.6 L329.6 770 Z" fill="#c9c9c9"/>
<text class="lab" x="998.3" y="972.5">11</text>
<path class="g t b" d="M967 953.3 L999.3 953.3" />
<path d="M955 953.3 L968.5 945.4 L968.5 961.2 Z" fill="#c9c9c9"/>
<text class="lab" x="784.2" y="174.3">6</text>
<text class="lab" x="486.9" y="662.7">6</text>
<text class="lab" x="648.7" y="637.7">6</text>
</g>

</svg>
<div class="banner">
<div style="top:11px;left:-3.6px">Part or sub-assembly is #4 in diagram</div>
<div style="top:60px;left:-7px">Diagram may not be specific to your vehicle</div>
</div>
</body>
</html>
